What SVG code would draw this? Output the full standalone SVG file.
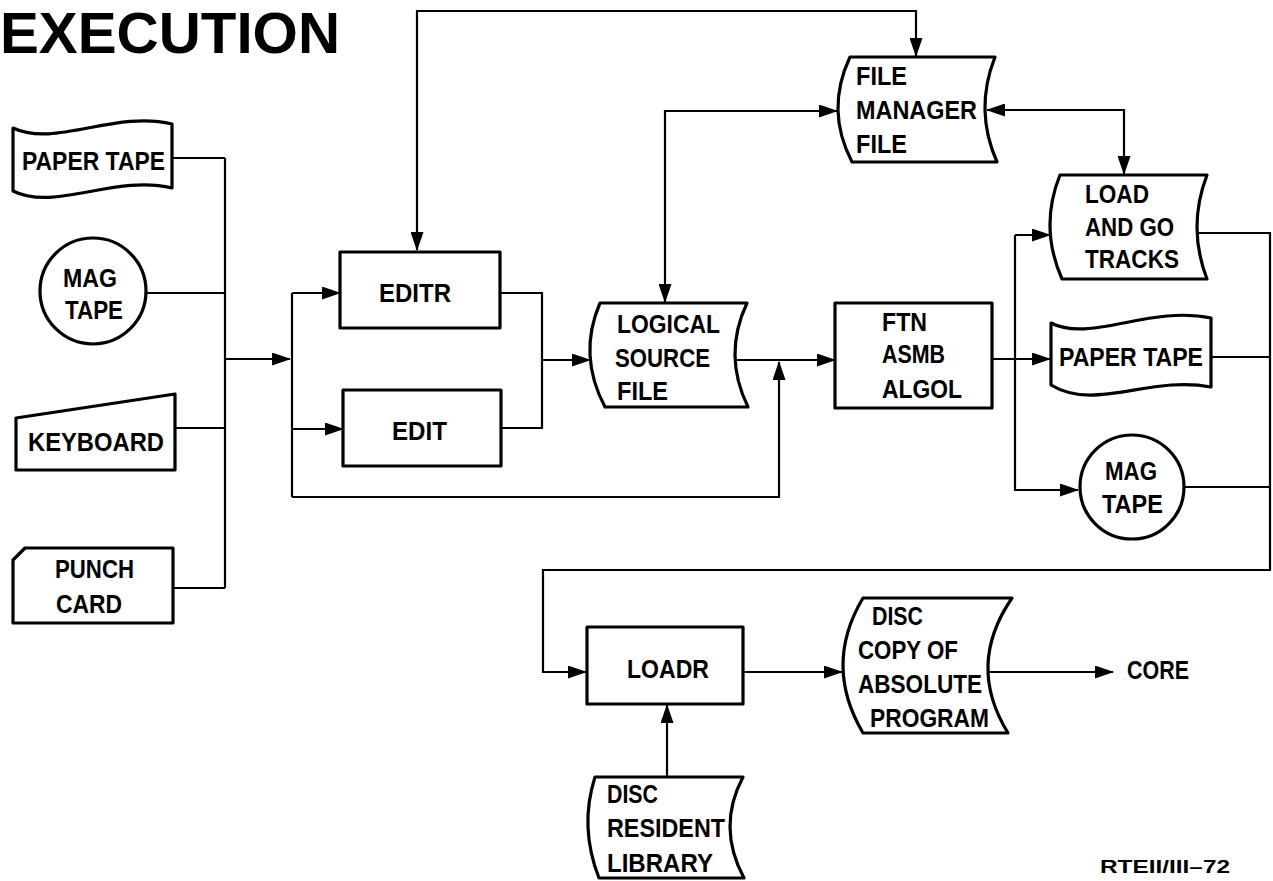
<svg xmlns="http://www.w3.org/2000/svg" width="1273" height="881" viewBox="0 0 1273 881">
<style>
.n{fill:#fff;stroke:#000;stroke-width:3.2;stroke-linejoin:round}
.c{fill:none;stroke:#000;stroke-width:2.2}
.t{font-family:"Liberation Sans",Arial,sans-serif;font-weight:bold;font-size:26px;fill:#000}
.ttl{font-family:"Liberation Sans",Arial,sans-serif;font-weight:bold;font-size:58px;fill:#000}
.s{font-family:"Liberation Sans",Arial,sans-serif;font-weight:bold;font-size:19px;fill:#000}
</style>
<defs>
<marker id="a" markerUnits="userSpaceOnUse" markerWidth="19" markerHeight="13" refX="18" refY="6.5" orient="auto-start-reverse">
<path d="M0,0 L19,6.5 L0,13 Z" fill="#000"/>
</marker>
</defs>
<rect width="1273" height="881" fill="#fff"/>
<text class="ttl" x="0" y="53" textLength="340" lengthAdjust="spacingAndGlyphs">EXECUTION</text>

<g id="connectors">
<path class="c" d="M172,158 H225 M146,293 H225 M175,428 H225 M173,588 H225 M225,158 V588"/>
<path class="c" d="M225,359 H290" marker-end="url(#a)"/>
<path class="c" d="M292,293 V497"/>
<path class="c" d="M292,293 H340" marker-end="url(#a)"/>
<path class="c" d="M292,429 H343" marker-end="url(#a)"/>
<path class="c" d="M292,497 H779 V362" marker-end="url(#a)"/>
<path class="c" d="M500,293 H542 V428 H501"/>
<path class="c" d="M542,360 H590" marker-end="url(#a)"/>
<path class="c" d="M735,360 H835" marker-end="url(#a)"/>
<path class="c" d="M992,359 H1050" marker-end="url(#a)"/>
<path class="c" d="M1015,235 H1050" marker-end="url(#a)"/>
<path class="c" d="M1015,235 V490 H1078" marker-end="url(#a)"/>
<path class="c" d="M417,250 V11 H916 V56" marker-start="url(#a)" marker-end="url(#a)"/>
<path class="c" d="M665,302 V111 H837" marker-start="url(#a)" marker-end="url(#a)"/>
<path class="c" d="M987,110 H1124 V174" marker-start="url(#a)" marker-end="url(#a)"/>
<path class="c" d="M1197,233 H1270 V570 H543 V672 H586" marker-end="url(#a)"/>
<path class="c" d="M1211,357 H1270 M1184,487 H1270"/>
<path class="c" d="M667,777 V705" marker-end="url(#a)"/>
<path class="c" d="M743,672 H842" marker-end="url(#a)"/>
<path class="c" d="M988,672 H1113" marker-end="url(#a)"/>
</g>

<g id="paper-tape-in">
<path class="n" d="M13,128 C55,148 115,110 172,124 L172,188 C115,174 55,212 13,191 Z"/>
<text class="t" x="22" y="170" textLength="143" lengthAdjust="spacingAndGlyphs">PAPER TAPE</text>
</g>
<g id="mag-tape-in">
<circle class="n" cx="93" cy="291" r="53"/>
<text class="t" x="63" y="287" textLength="54" lengthAdjust="spacingAndGlyphs">MAG</text>
<text class="t" x="65" y="319" textLength="58" lengthAdjust="spacingAndGlyphs">TAPE</text>
</g>
<g id="keyboard">
<path class="n" d="M16,418 L175,394 L175,470 L16,470 Z"/>
<text class="t" x="28" y="451" textLength="136" lengthAdjust="spacingAndGlyphs">KEYBOARD</text>
</g>
<g id="punch-card">
<path class="n" d="M13,560 L25,548 L173,548 L173,623 L13,623 Z"/>
<text class="t" x="55" y="578" textLength="79" lengthAdjust="spacingAndGlyphs">PUNCH</text>
<text class="t" x="56" y="613" textLength="66" lengthAdjust="spacingAndGlyphs">CARD</text>
</g>
<g id="editr">
<rect class="n" x="340" y="252" width="160" height="76"/>
<text class="t" x="379" y="302" textLength="72" lengthAdjust="spacingAndGlyphs">EDITR</text>
</g>
<g id="edit">
<rect class="n" x="343" y="390" width="158" height="76"/>
<text class="t" x="392" y="440" textLength="55" lengthAdjust="spacingAndGlyphs">EDIT</text>
</g>
<g id="logical-source-file">
<path class="n" d="M600,303 L747,303 Q722.5,355 748,407 L605,407 Q577.5,355 600,303 Z"/>
<text class="t" x="617" y="333" textLength="103" lengthAdjust="spacingAndGlyphs">LOGICAL</text>
<text class="t" x="615" y="367" textLength="95" lengthAdjust="spacingAndGlyphs">SOURCE</text>
<text class="t" x="617" y="400" textLength="51" lengthAdjust="spacingAndGlyphs">FILE</text>
</g>
<g id="compilers">
<rect class="n" x="835" y="303" width="157" height="105"/>
<text class="t" x="882" y="331" textLength="45" lengthAdjust="spacingAndGlyphs">FTN</text>
<text class="t" x="882" y="363" textLength="63" lengthAdjust="spacingAndGlyphs">ASMB</text>
<text class="t" x="882" y="398" textLength="80" lengthAdjust="spacingAndGlyphs">ALGOL</text>
</g>
<g id="file-manager-file">
<path class="n" d="M850,57 L995,57 Q974,110 997,162 L852,162 Q825,110 850,57 Z"/>
<text class="t" x="856" y="85" textLength="51" lengthAdjust="spacingAndGlyphs">FILE</text>
<text class="t" x="856" y="119" textLength="121" lengthAdjust="spacingAndGlyphs">MANAGER</text>
<text class="t" x="856" y="153" textLength="51" lengthAdjust="spacingAndGlyphs">FILE</text>
</g>
<g id="load-and-go-tracks">
<path class="n" d="M1060,175 L1207,175 Q1187,227 1207,279 L1062,279 Q1039,227 1060,175 Z"/>
<text class="t" x="1085" y="203" textLength="64" lengthAdjust="spacingAndGlyphs">LOAD</text>
<text class="t" x="1085" y="236" textLength="89" lengthAdjust="spacingAndGlyphs">AND GO</text>
<text class="t" x="1085" y="268" textLength="94" lengthAdjust="spacingAndGlyphs">TRACKS</text>
</g>
<g id="paper-tape-out">
<path class="n" d="M1051,323 C1090,343 1150,305 1211,318 L1211,387 C1150,375 1095,412 1051,385 Z"/>
<text class="t" x="1059" y="366" textLength="144" lengthAdjust="spacingAndGlyphs">PAPER TAPE</text>
</g>
<g id="mag-tape-out">
<circle class="n" cx="1132" cy="487" r="52"/>
<text class="t" x="1105" y="480" textLength="52" lengthAdjust="spacingAndGlyphs">MAG</text>
<text class="t" x="1102" y="513" textLength="61" lengthAdjust="spacingAndGlyphs">TAPE</text>
</g>
<g id="loadr">
<rect class="n" x="587" y="627" width="156" height="77"/>
<text class="t" x="627" y="678" textLength="82" lengthAdjust="spacingAndGlyphs">LOADR</text>
</g>
<g id="disc-copy">
<path class="n" d="M863,598 L1012,598 Q966,665 1008,733 L863,733 Q823,665 863,598 Z"/>
<text class="t" x="872" y="625" textLength="51" lengthAdjust="spacingAndGlyphs">DISC</text>
<text class="t" x="858" y="659" textLength="100" lengthAdjust="spacingAndGlyphs">COPY OF</text>
<text class="t" x="858" y="693" textLength="124" lengthAdjust="spacingAndGlyphs">ABSOLUTE</text>
<text class="t" x="870" y="727" textLength="119" lengthAdjust="spacingAndGlyphs">PROGRAM</text>
</g>
<g id="core">
<text class="t" x="1127" y="679" textLength="62" lengthAdjust="spacingAndGlyphs">CORE</text>
</g>
<g id="disc-resident-library">
<path class="n" d="M595,777 L743,777 Q716.5,827 744,878 L599,878 Q579,827 595,777 Z"/>
<text class="t" x="607" y="803" textLength="51" lengthAdjust="spacingAndGlyphs">DISC</text>
<text class="t" x="607" y="837" textLength="118" lengthAdjust="spacingAndGlyphs">RESIDENT</text>
<text class="t" x="607" y="872" textLength="106" lengthAdjust="spacingAndGlyphs">LIBRARY</text>
</g>
<text class="s" x="1100" y="873" textLength="130" lengthAdjust="spacingAndGlyphs">RTEII/III–72</text>
</svg>
